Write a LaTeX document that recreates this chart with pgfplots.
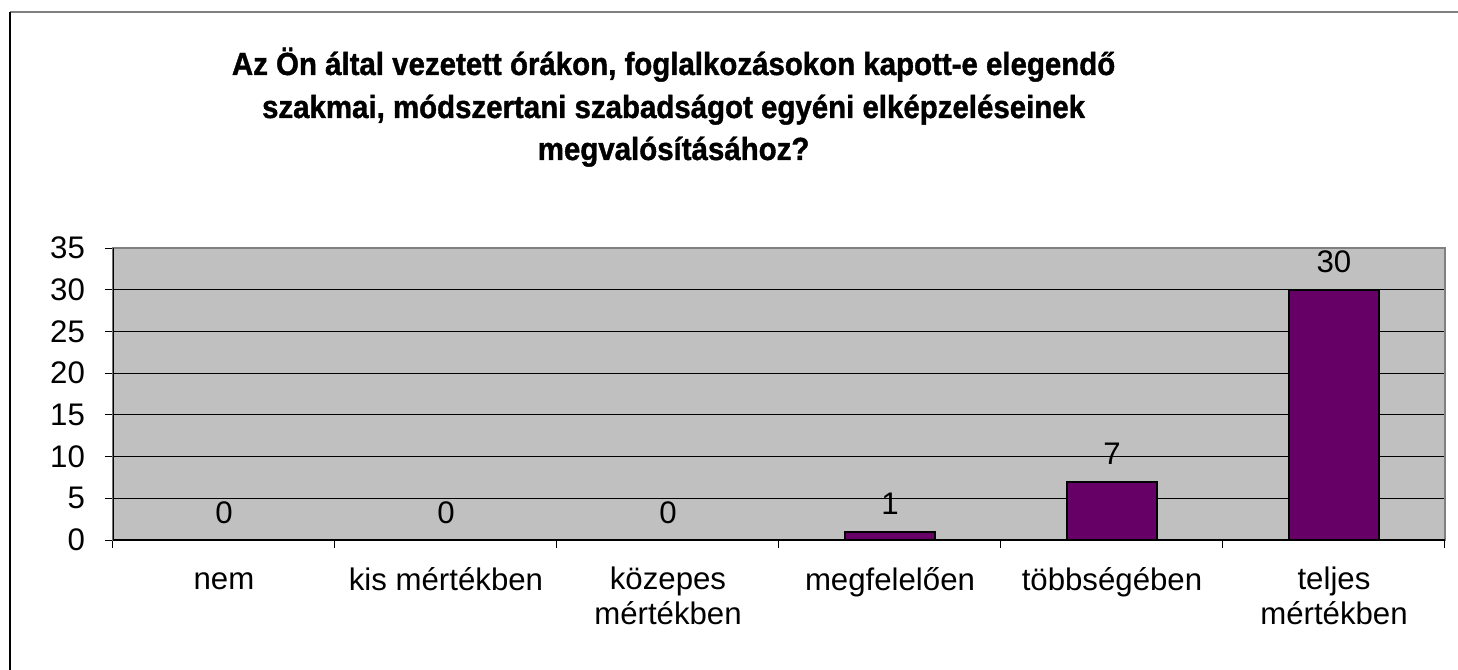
\documentclass[border=0pt]{standalone}
\usepackage{fontspec}
\setmainfont{Liberation Sans}
\newfontfamily\titlefont[FakeStretch=0.92, FakeBold=1.2]{Liberation Sans Bold}
\usepackage{pgfplots}
\pgfplotsset{compat=1.18}
\definecolor{barpurple}{HTML}{660066}
\definecolor{plotgray}{HTML}{C0C0C0}
\newcommand{\lblfont}{\fontsize{15.6pt}{17.5pt}\selectfont}
\newcommand{\ttlfont}{\titlefont\fontsize{16pt}{21pt}\selectfont}
\begin{document}
\begin{tikzpicture}
\useasboundingbox (0pt,0pt) rectangle (729pt,335pt);
% outer chart frame (only top and left are visible)
\draw[gray, line width=0.75pt] (5pt,329pt) -- (729pt,329pt);
\draw[black, line width=0.75pt] (5pt,329pt) -- (5pt,0pt);
% title, one node per line
\node[font=\ttlfont, anchor=base] at (336.8pt,297.5pt) {Az Ön által vezetett órákon, foglalkozásokon kapott-e elegendő};
\node[font=\ttlfont, anchor=base] at (336.8pt,276pt) {szakmai, módszertani szabadságot egyéni elképzeléseinek};
\node[font=\ttlfont, anchor=base] at (336.8pt,255pt) {megvalósításához?};
\begin{axis}[
    at={(56.5pt,65pt)}, anchor=south west,
    scale only axis,
    width=666pt, height=146pt,
    ybar, bar width=45pt,
    xmin=-0.5, xmax=5.5,
    ymin=0, ymax=35,
    xtick={-0.5,0.5,...,5.5},
    x tick label as interval,
    xticklabels={\vphantom{k}nem, kis mértékben, közepes\\mértékben, megfelelően, többségében, teljes\\mértékben},
    xticklabel style={align=center, font=\lblfont, yshift=-6pt},
    ytick={0,5,...,35},
    yticklabel style={font=\lblfont, xshift=-6.5pt},
    /pgf/number format/assume math mode=true,
    tick align=outside,
    major tick length=4pt,
    tick style={black, line width=0.5pt},
    xtick pos=bottom, ytick pos=left,
    ymajorgrids,
    major grid style={black, line width=0.5pt},
    axis background/.style={fill=plotgray},
    axis line style={draw=gray, line width=1pt},
    nodes near coords,
    every node near coord/.append style={font=\lblfont, black, yshift=4.5pt},
]
\addplot[fill=barpurple, draw=black, line width=1pt] coordinates {
    (0,0) (1,0) (2,0) (3,1) (4,7) (5,30)
};
\draw[black, line width=0.75pt] (rel axis cs:0,0) -- (rel axis cs:1,0);
\draw[black, line width=0.75pt] (rel axis cs:0,0) -- (rel axis cs:0,1);
\end{axis}
\end{tikzpicture}
\end{document}
